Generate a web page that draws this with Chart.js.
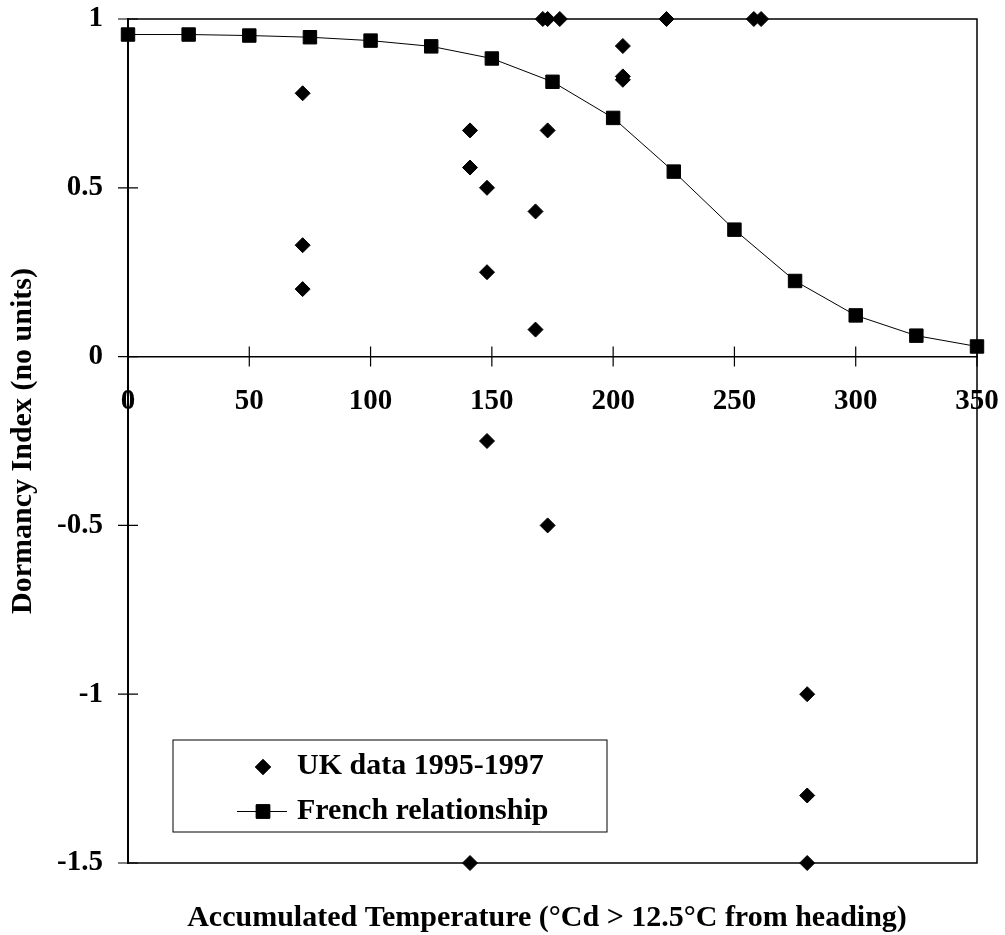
<!DOCTYPE html>
<html>
<head>
<meta charset="utf-8">
<title>Dormancy Index</title>
<script src="https://cdn.jsdelivr.net/npm/chart.js@4/dist/chart.umd.min.js"></script>
<style>
  html, body { margin: 0; padding: 0; background: #fff; }
  #wrap { width: 1005px; height: 935px; }
</style>
</head>
<body>
<div id="wrap"><canvas id="dormancy"></canvas></div>
<script>
// UK field data (accumulated temperature, dormancy index)
const uk_x = [72, 72, 72, 141, 141, 141, 148, 148, 148, 168, 168, 171, 173, 173, 173, 178, 204, 204, 204, 222, 258, 261, 280, 280, 280];
const uk_y = [0.78, 0.33, 0.2, 0.67, 0.56, -1.5, 0.5, 0.25, -0.25, 0.43, 0.08, 1, 1, 0.67, -0.5, 1, 0.92, 0.83, 0.82, 1, 1, 1, -1, -1.3, -1.5];

// French relationship curve
const fr_x = [0, 25, 50, 75, 100, 125, 150, 175, 200, 225, 250, 275, 300, 325, 350];
const fr_y = [0.954, 0.954, 0.951, 0.946, 0.936, 0.919, 0.883, 0.814, 0.707, 0.548, 0.376, 0.224, 0.122, 0.062, 0.03];

const x_ticks = [0, 50, 100, 150, 200, 250, 300, 350];
const y_ticks = [1, 0.5, 0, -0.5, -1, -1.5];

const uk_label = "UK data 1995-1997";
const fr_label = "French relationship";
const x_title = "Accumulated Temperature (\u00b0Cd > 12.5\u00b0C from heading)";
const y_title = "Dormancy Index (no units)";

const serif = "'Liberation Serif', 'Times New Roman', serif";

function toPoints(xs, ys) {
  return xs.map((x, i) => ({ x: x, y: ys[i] }));
}

// box round the plot, crossing tick marks, x title and legend
const extras = {
  id: "extras",
  afterDatasetsDraw(chart) {
    const ctx = chart.ctx;
    const a = chart.chartArea;
    const xs = chart.scales.x;
    const ys = chart.scales.y;
    const y0 = ys.getPixelForValue(0);
    ctx.save();
    ctx.strokeStyle = "#000";
    ctx.lineWidth = 1.5;
    ctx.strokeRect(a.left, a.top, a.right - a.left, a.bottom - a.top);

    ctx.lineWidth = 1.2;
    ctx.beginPath();
    x_ticks.forEach((v) => {
      const px = xs.getPixelForValue(v);
      ctx.moveTo(px, y0 - 10);
      ctx.lineTo(px, y0 + 10);
    });
    y_ticks.forEach((v) => {
      const py = ys.getPixelForValue(v);
      ctx.moveTo(a.left - 10, py);
      ctx.lineTo(a.left + 10, py);
    });
    ctx.stroke();

    ctx.fillStyle = "#000";
    ctx.font = "bold 30px " + serif;
    ctx.textAlign = "center";
    ctx.textBaseline = "alphabetic";
    ctx.fillText(x_title, 547, 926);

    // legend
    ctx.lineWidth = 1;
    ctx.strokeRect(173, 740, 434, 92);
    const ds = chart.data.datasets;
    const drawPoint = Chart.helpers && Chart.helpers.drawPoint;
    ctx.fillStyle = "#000";
    if (drawPoint) {
      drawPoint(ctx, { pointStyle: ds[0].pointStyle, radius: ds[0].pointRadius, borderWidth: ds[0].borderWidth, rotation: 0 }, 263, 767);
      ctx.fill();
      ctx.stroke();
    }
    ctx.beginPath();
    ctx.lineWidth = 1;
    ctx.moveTo(237, 811.5);
    ctx.lineTo(287, 811.5);
    ctx.stroke();
    if (drawPoint) {
      drawPoint(ctx, { pointStyle: ds[1].pointStyle, radius: ds[1].pointRadius, borderWidth: ds[1].borderWidth, rotation: 0 }, 263, 811.5);
      ctx.fill();
      ctx.stroke();
    }
    ctx.font = "bold 30px " + serif;
    ctx.textAlign = "left";
    ctx.fillText(ds[0].label, 297, 773.5);
    ctx.fillText(ds[1].label, 297, 818.5);
    ctx.restore();
  },
};

new Chart(document.getElementById("dormancy"), {
  type: "scatter",
  data: {
    datasets: [
      {
        label: uk_label,
        data: toPoints(uk_x, uk_y),
        pointStyle: "rectRot",
        pointRadius: 7.5,
        borderWidth: 1,
        borderColor: "#000",
        backgroundColor: "#000",
        showLine: false,
        clip: false,
      },
      {
        label: fr_label,
        data: toPoints(fr_x, fr_y),
        pointStyle: "rect",
        pointRadius: 9.5,
        borderWidth: 1,
        borderColor: "#000",
        backgroundColor: "#000",
        showLine: true,
        tension: 0,
        clip: false,
      },
    ],
  },
  options: {
    responsive: true,
    maintainAspectRatio: false,
    animation: false,
    events: [],
    layout: { padding: { top: 19, right: 28, bottom: 72, left: 0 } },
    plugins: {
      legend: { display: false },
      tooltip: { enabled: false },
    },
    scales: {
      x: {
        type: "linear",
        position: { y: 0 },
        min: 0,
        max: 350,
        afterBuildTicks(scale) {
          scale.ticks = x_ticks.map((v) => ({ value: v }));
        },
        afterFit(scale) {
          scale.paddingLeft = 0;
          scale.paddingRight = 0;
        },
        grid: { display: true, drawOnChartArea: false, drawTicks: false },
        border: { display: true, color: "#000", width: 1.5 },
        ticks: {
          color: "#000",
          padding: 28,
          maxRotation: 0,
          autoSkip: false,
          font: { family: serif, size: 29, weight: "bold" },
        },
      },
      y: {
        type: "linear",
        position: "left",
        min: -1.5,
        max: 1,
        afterBuildTicks(scale) {
          scale.ticks = y_ticks.slice().reverse().map((v) => ({ value: v }));
        },
        afterFit(scale) {
          scale.width = 128;
          scale.paddingTop = 0;
          scale.paddingBottom = 0;
        },
        grid: { display: true, drawOnChartArea: false, drawTicks: false },
        border: { display: true, color: "#000", width: 2 },
        ticks: {
          color: "#000",
          padding: 25,
          callback: (v) => String(v),
          font: { family: serif, size: 29, weight: "bold" },
        },
        title: {
          display: true,
          text: y_title,
          color: "#000",
          padding: { top: 5, bottom: 0 },
          font: { family: serif, size: 30, weight: "bold" },
        },
      },
    },
  },
  plugins: [extras],
});
</script>
</body>
</html>
